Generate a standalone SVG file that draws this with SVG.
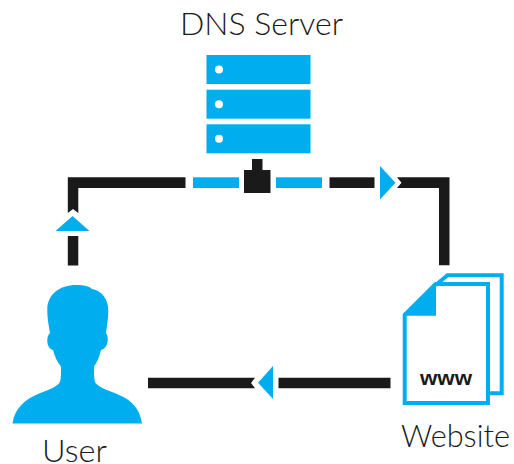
<svg xmlns="http://www.w3.org/2000/svg" width="514" height="464" viewBox="0 0 514 464">
<style>
.k{fill:#1a1a1a}
.b{fill:#00aeef}
.o{fill:#fff;stroke:#00aeef;stroke-width:4}
.t{font-family:"Lato","Noto Sans",sans-serif;font-weight:300;fill:#1a1a1a}
</style>
<rect width="514" height="464" fill="#fff"/>
<g id="connectors">
<path class="k" d="M67.8 265.5V236H78.3V265.5ZM67.8 213V177.3H185.5V188H78.3V213L73 209Z"/>
<polygon class="b" points="72.5,216 89.5,231 55.5,231"/>
<rect class="b" x="193" y="177.3" width="46" height="10.7"/>
<rect class="b" x="276" y="177.3" width="46" height="10.7"/>
<rect class="k" x="329.5" y="177.3" width="45" height="10.7"/>
<polygon class="b" points="380,166 395.5,182.7 380,199.5"/>
<path class="k" d="M397 177.3H449.5V265.3H439V188H397L401.5 182.7Z"/>
<path class="k" d="M148 377.7H255L251 383L255 388.3H148ZM278.5 377.7H390.5V388.3H278.5Z"/>
<polygon class="b" points="273,366 273,399 258,382.7"/>
</g>
<g id="dns-server">
<rect class="b" x="206.5" y="55" width="104" height="29"/>
<rect class="b" x="206.5" y="89.7" width="104" height="29"/>
<rect class="b" x="206.5" y="124.3" width="104" height="29"/>
<circle cx="219" cy="69.5" r="4" fill="#fff"/>
<circle cx="219" cy="104.2" r="4" fill="#fff"/>
<circle cx="219" cy="138.8" r="4" fill="#fff"/>
<path class="k" d="M252 159H262.5V170H270.5V193H244V170H252Z"/>
<text class="t" x="261.5" y="35" font-size="32" text-anchor="middle" textLength="163" lengthAdjust="spacingAndGlyphs">DNS Server</text>
</g>
<g id="user">
<path class="b" d="M12.5 423.5C14.5 408 26 399 37 394.5C46 390.5 55 388 59 383.5C61 381 61 376 61 366.5C57 362 54.5 356 53 350C49 349 47.3 345 47.3 340.5C47.3 336.5 48.5 334 50 333C48 322 47.3 316 47.3 310C47.3 294 60 285 76 285C84 285 89 286 92 289C103 291 108.3 300 108.3 311C108.3 318 107 326 106 333C107.5 335 108 337.5 107.7 340.5C107.5 345 105 349 101 350C99.5 356 97.5 362 94 366.5C94 376 94 381 96 383.5C100 388 109 390.5 118 394.5C130 399 140 408 142 423.5Z"/>
<text class="t" x="74.5" y="461.5" font-size="32" text-anchor="middle" textLength="65" lengthAdjust="spacingAndGlyphs">User</text>
</g>
<g id="website">
<path class="o" d="M437 284L447.5 275.3H501.7V393.3H486"/>
<path class="o" d="M436 284H488V403H404.7V315Z"/>
<polygon class="b" points="403,314 435,282 436,282 436,315.7 403,315.7"/>
<text x="446" y="385" font-family="'Liberation Sans',sans-serif" font-weight="700" font-size="21" fill="#1a1a1a" text-anchor="middle" textLength="52" lengthAdjust="spacingAndGlyphs">www</text>
<text class="t" x="455.5" y="447" font-size="32" text-anchor="middle" textLength="109" lengthAdjust="spacingAndGlyphs">Website</text>
</g>
</svg>
